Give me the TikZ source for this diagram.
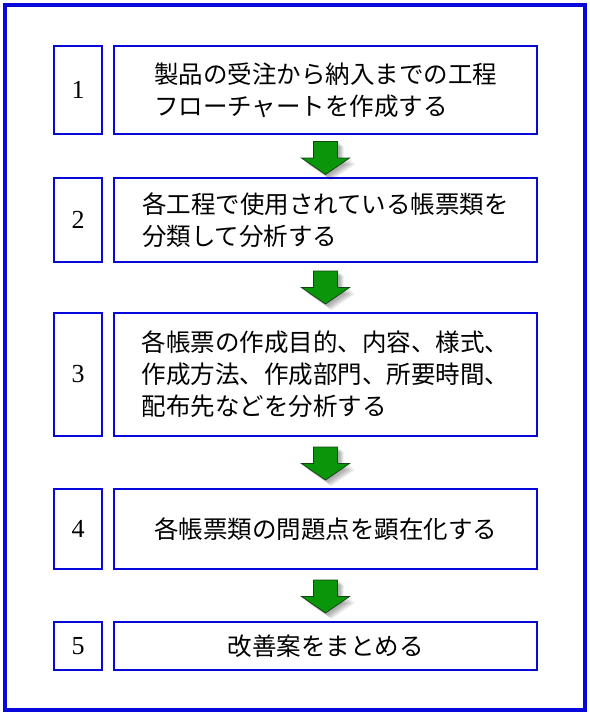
\documentclass[tikz,border=0pt]{standalone}
\usepackage{fontspec}
\newfontfamily\jp{Noto Sans CJK JP}
\newfontfamily\numfont{Liberation Serif}
\usetikzlibrary{calc}
\definecolor{boxblue}{RGB}{8,8,220}
\definecolor{argreen}{RGB}{10,150,10}
\definecolor{ardark}{RGB}{20,70,20}
\tikzset{
  numbox/.style={draw=boxblue, line width=2bp, fill=white, minimum width=48bp, inner sep=0pt,
    font=\fontsize{26bp}{30bp}\numfont},
  textbox/.style={draw=boxblue, line width=2bp, fill=white, minimum width=423bp, inner sep=0pt,
    align=left, font=\fontsize{24.5bp}{32bp}\jp},
  arrowfill/.style={fill=argreen, draw=ardark, line width=0.8bp, line join=miter},
  arrowshadow/.style={fill=black, opacity=0.07}
}
\newcommand\flowarrow[1]{%
  \begin{scope}[shift={(#1)}]
    \foreach \d in {2,3,4,5,6}{
      \fill[arrowshadow] (-12+\d,-16.5+\d*0.8) -- (12+\d,-16.5+\d*0.8) -- (12+\d,0+\d) -- (24+\d,0+\d) -- (0+\d,16.5+\d) -- (-24+\d,0+\d) -- (-12+\d,0+\d) -- cycle;
    }
    \draw[arrowfill] (-12,-16.5) -- (12,-16.5) -- (12,0) -- (24,0) -- (0,16.5) -- (-24,0) -- (-12,0) -- cycle;
  \end{scope}}
\begin{document}
\begin{tikzpicture}[x=1bp,y=-1bp]
\useasboundingbox (0,0) rectangle (590,717);
\fill[white] (0,0) rectangle (590,717);
\draw[boxblue, line width=4bp] (5,5) rectangle (585,710);

\node[numbox, minimum height=88bp] (n1) at (78,90) {1};
\node[textbox, minimum height=88bp] (t1) at (325.5,90) {製品の受注から納入までの工程\\フローチャートを作成する};

\node[numbox, minimum height=84bp] (n2) at (78,220) {2};
\node[textbox, minimum height=84bp] (t2) at (325.5,220) {各工程で使用されている帳票類を\\分類して分析する};

\node[numbox, minimum height=123bp] (n3) at (78,374.5) {3};
\node[textbox, minimum height=123bp] (t3) at (325.5,374.5) {各帳票の作成目的、内容、様式、\\作成方法、作成部門、所要時間、\\配布先などを分析する};

\node[numbox, minimum height=80bp] (n4) at (78,529) {4};
\node[textbox, minimum height=80bp] (t4) at (325.5,529) {各帳票類の問題点を顕在化する};

\node[numbox, minimum height=48bp] (n5) at (78,646) {5};
\node[textbox, minimum height=48bp] (t5) at (325.5,646) {改善案をまとめる};

\coordinate (a1) at ($(t1.south)!0.5!(t2.north)+(0,2)$);
\coordinate (a2) at ($(t2.south)!0.5!(t3.north)+(0,0)$);
\coordinate (a3) at ($(t3.south)!0.5!(t4.north)+(0,1)$);
\coordinate (a4) at ($(t4.south)!0.5!(t5.north)+(0,1)$);
\flowarrow{a1}
\flowarrow{a2}
\flowarrow{a3}
\flowarrow{a4}
\end{tikzpicture}
\end{document}
